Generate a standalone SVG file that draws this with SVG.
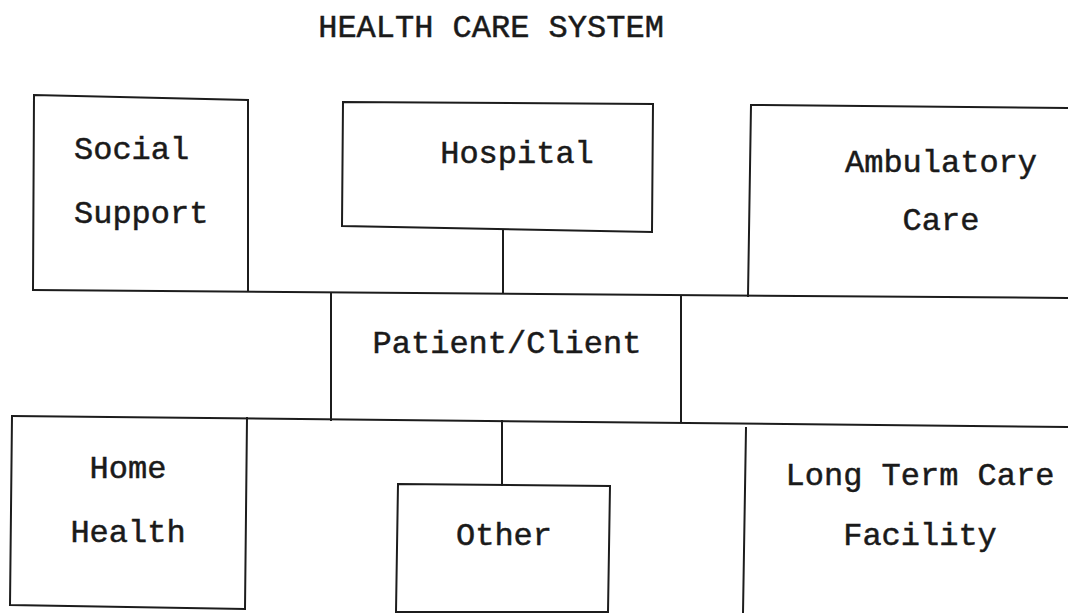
<svg xmlns="http://www.w3.org/2000/svg" width="1068" height="613" viewBox="0 0 1068 613">
  <style>
    .bg { fill: #ffffff; }
    .edge { fill: none; stroke: #1c1c1c; stroke-width: 2; stroke-linejoin: miter; stroke-linecap: square; }
    .label { font-family: "Liberation Mono", "Courier New", monospace; font-size: 32px; fill: #1a1a1a; stroke: #1a1a1a; stroke-width: 0.5; }
    .mid { text-anchor: middle; }
  </style>
  <rect class="bg" x="0" y="0" width="1068" height="613"/>

  <g id="title">
    <text class="label mid" x="491" y="37">HEALTH CARE SYSTEM</text>
  </g>

  <g id="connectors">
    <!-- upper shared rule -->
    <path class="edge" d="M33,290 L1068,298"/>
    <!-- lower shared rule -->
    <path class="edge" d="M12,416 L1068,427"/>
    <!-- Hospital to Patient/Client -->
    <path class="edge" d="M503,230 L503,292"/>
    <!-- Patient/Client to Other -->
    <path class="edge" d="M502,421 L502,485"/>
  </g>

  <g id="social-support">
    <path class="edge" d="M33,290 L34,95 L248,100 L248,291"/>
    <text class="label" x="74" y="159">Social</text>
    <text class="label" x="74" y="223">Support</text>
  </g>

  <g id="hospital">
    <path class="edge" d="M343,102 L653,104 L652,232 L342,226 Z"/>
    <text class="label mid" x="517" y="163">Hospital</text>
  </g>

  <g id="ambulatory-care">
    <path class="edge" d="M748,296 L751,105 L1068,108"/>
    <text class="label mid" x="941" y="172">Ambulatory</text>
    <text class="label mid" x="941" y="230">Care</text>
  </g>

  <g id="patient-client">
    <path class="edge" d="M331,293 L331,420"/>
    <path class="edge" d="M681,296 L681,422"/>
    <text class="label mid" x="507" y="353">Patient/Client</text>
  </g>

  <g id="home-health">
    <path class="edge" d="M12,416 L10,605 L245,609 L247,418"/>
    <text class="label mid" x="128" y="478">Home</text>
    <text class="label mid" x="128" y="542">Health</text>
  </g>

  <g id="other">
    <path class="edge" d="M398,484 L610,486 L608,612 L396,612 Z"/>
    <text class="label mid" x="504" y="545">Other</text>
  </g>

  <g id="long-term-care">
    <path class="edge" d="M746,428 L743,613"/>
    <text class="label mid" x="920" y="485">Long Term Care</text>
    <text class="label mid" x="920" y="545">Facility</text>
  </g>
</svg>
